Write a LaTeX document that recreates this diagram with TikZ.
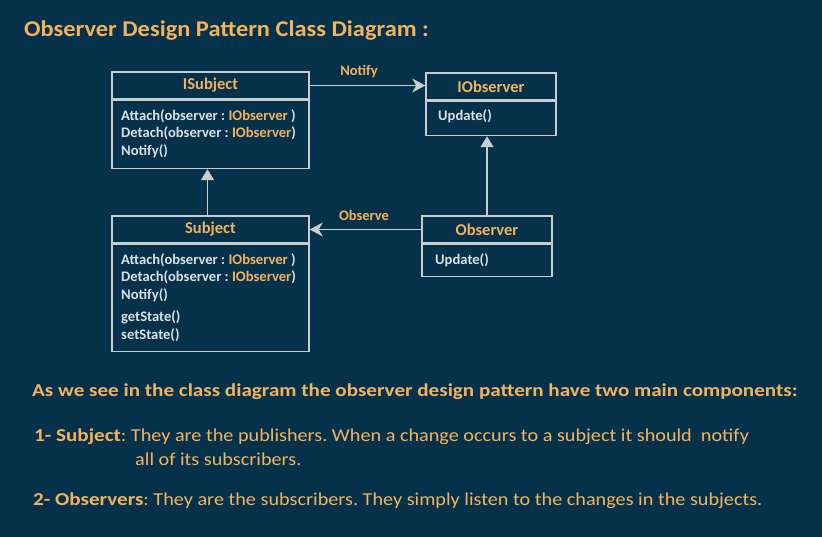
\documentclass[tikz,border=0pt]{standalone}
\usepackage{fontspec}
\setmainfont{Carlito}
\newfontfamily\titlefont{Carlito}[FakeStretch=1.085]
\newfontfamily\notefont{Carlito}[FakeStretch=1.11, BoldFeatures={FakeStretch=1.16}]
\usetikzlibrary{
		positioning,
		arrows.meta
	}
\definecolor{bgblue}{HTML}{05324A}
\definecolor{umlorange}{HTML}{F5B25C}
\definecolor{umlgray}{HTML}{C9CDD0}
\definecolor{umltext}{HTML}{DDE0E2}
\tikzset{
		>=Stealth,
		classhead/.style={draw=umlgray, line width=1.5pt, text=umlorange,
			font=\fontsize{16.5}{19}\selectfont\bfseries, inner sep=0pt, minimum height=27pt},
		classbody/.style={draw=umlgray, line width=1.5pt, inner sep=0pt},
		method/.style={anchor=base west, inner sep=0pt, text=umltext,
			font=\fontsize{14.6}{17}\selectfont\bfseries},
		linklabel/.style={text=umlorange, font=\fontsize{14.5}{17}\selectfont\bfseries},
		assoc/.style={draw=umlgray, line width=1.5pt, -{Stealth[length=13pt,width=14pt,inset=4pt]}},
		realize/.style={draw=umlgray, line width=1.5pt, -{Triangle[length=11pt,width=13pt]}},
		note/.style={anchor=base west, inner sep=0pt, text=umlorange,
			font=\notefont\fontsize{18.2}{22}\selectfont}
	}
\frenchspacing
\begin{document}
\begin{tikzpicture}[x=1pt,y=-1pt]
              % background and the size of the page
              \fill[bgblue] (0,0) rectangle (822,537);
              \useasboundingbox (0,0) rectangle (822,537);

              % the title
              \node[note, font=\titlefont\fontsize{22.5}{26}\selectfont\bfseries] (title) at (24,37)
                {Observer Design Pattern Class Diagram :};

              % the classes (a head node with the name and a body node below it)
              \node[classhead, minimum width=197pt] (isubjh) at (210.5,85.5) {ISubject};
              \node[classbody, minimum width=197pt, minimum height=68pt, below=0pt of isubjh] (isubjb) {};
              \node[classhead, minimum width=130pt] (iobsh) at (491,86.5) {IObserver};
              \node[classbody, minimum width=130pt, minimum height=34pt, below=0pt of iobsh] (iobsb) {};
              \node[classhead, minimum width=197pt] (subjh) at (210.5,229.5) {Subject};
              \node[classbody, minimum width=197pt, minimum height=107pt, below=0pt of subjh] (subjb) {};
              \node[classhead, minimum width=130pt] (obsh) at (487,229.5) {Observer};
              \node[classbody, minimum width=130pt, minimum height=32pt, below=0pt of obsh] (obsb) {};

              % the methods in the classes
              \node[method] (isa) at (121,121) {Attach(observer : \textcolor{umlorange}{IObserver} )};
              \node[method] (isd) at (121,138) {Detach(observer : \textcolor{umlorange}{IObserver})};
              \node[method] (isn) at (121,156) {Notify()};
              \node[method] (iou) at (438,121) {Update()};
              \node[method] (sa) at (121,265) {Attach(observer : \textcolor{umlorange}{IObserver} )};
              \node[method] (sd) at (121,282) {Detach(observer : \textcolor{umlorange}{IObserver})};
              \node[method] (sn) at (121,300) {Notify()};
              \node[method] (sg) at (121,322) {getState()};
              \node[method] (ss) at (121,339) {setState()};
              \node[method] (ou) at (435,265) {Update()};

              % draw the arrows
              \draw[assoc] (isubjh.east) -- (isubjh.east -| iobsh.west);
              \draw[assoc] (obsh.west) -- (obsh.west -| subjh.east);
              \draw[realize] ([xshift=-3pt]subjh.north) -- ([xshift=-3pt]isubjb.south);
              \draw[realize] (obsh.north) -- (obsh.north |- iobsb.south);
              \node[linklabel] (notify) at (359,72) {Notify};
              \node[linklabel] (observe) at (364,215) {Observe};

              % the texts below the diagram
              \node[note, font=\notefont\fontsize{18.2}{22}\selectfont\bfseries] (intro) at (32,396.5)
                {As we see in the class diagram the observer design pattern have two main components:};
              \node[note] (item1) at (34,441.5)
                {\textbf{1- Subject}: They are the publishers. When a change occurs to a subject it should\ \ notify};
              \node[note] (item1b) at (135,465.5) {all of its subscribers.};
              \node[note] (item2) at (33,505)
                {\textbf{2- Observers}: They are the subscribers. They simply listen to the changes in the subjects.};

          \end{tikzpicture}
\end{document}
